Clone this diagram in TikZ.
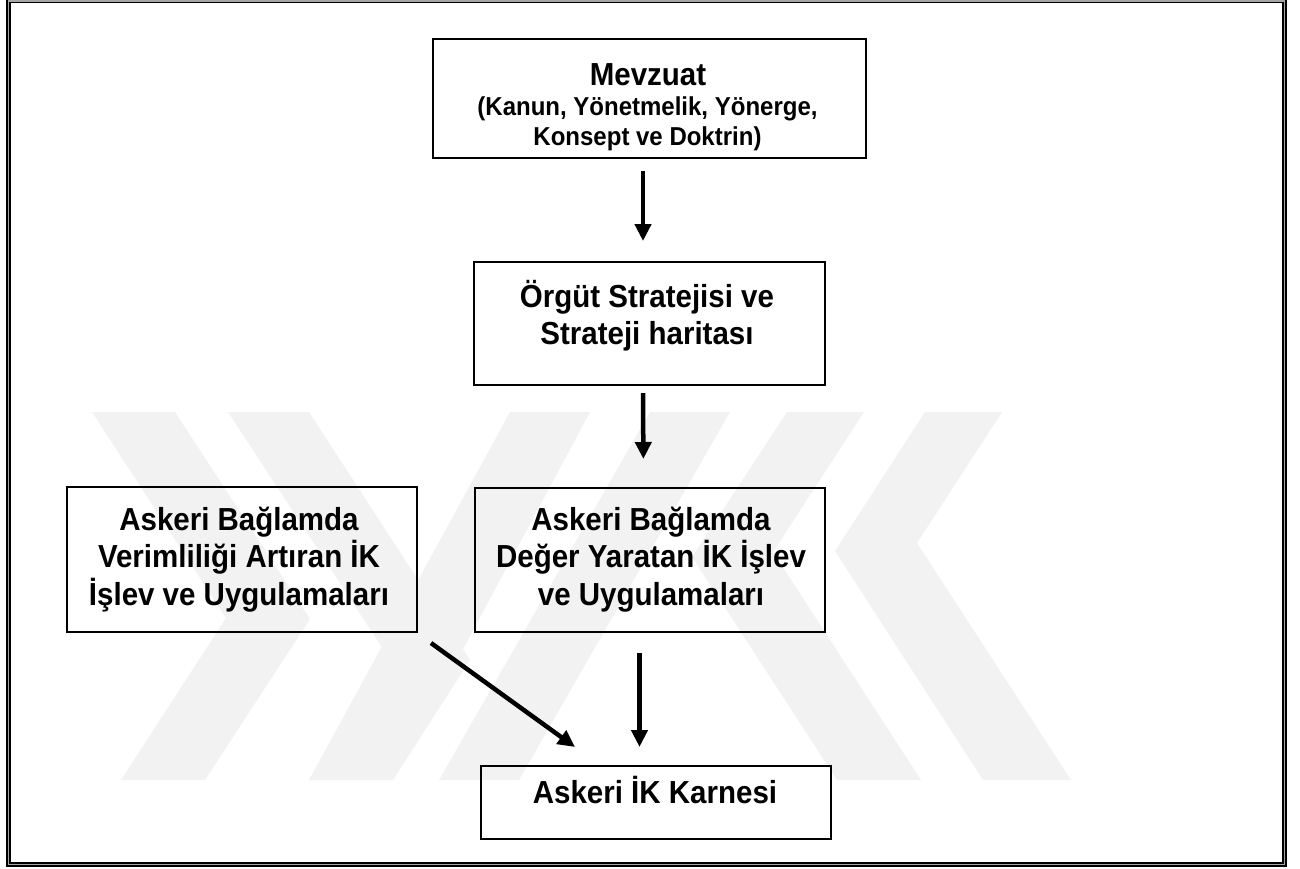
\documentclass[tikz,border=0pt]{standalone}
\usepackage{fontspec}
\usepackage{graphicx}
\setmainfont{Liberation Sans}
\usetikzlibrary{arrows.meta}
% centred lines, baseline of the first line is the box baseline
\newcommand{\boxlines}[1]{\vtop{\let\\\cr\halign{\hfil##\hfil\cr#1\crcr}}}
% slightly tall lettering
\newcommand{\tall}[1]{\scalebox{1}[1.08]{#1}}
\begin{document}
\begin{tikzpicture}[x=1pt,y=-1pt,
  wm/.style={fill=black!5, draw=none},
  box/.style={draw=black, line width=2pt, inner sep=0pt, rectangle},
  txt/.style={font=\bfseries\fontsize{29.5}{35}\selectfont, inner sep=0pt, anchor=base},
  sub/.style={font=\bfseries\fontsize{24}{28}\selectfont, inner sep=0pt, anchor=base},
  arr/.style={line width=4.5pt, -{Triangle[width=16pt,length=17pt]}}]
\useasboundingbox (0,0) rectangle (1300,868);

% light background emblem made of diagonal strips
\fill[wm] (92,412) -- (175,412) -- (310,619) -- (205,780) -- (121,780) -- (226,618) -- cycle;
\fill[wm] (228,412) -- (309,412) -- (470,660) -- (393,780) -- (309,780) -- (389,658) -- cycle;
\fill[wm] (510,412) -- (590,412) -- (393,780) -- (309,780) -- cycle;
\fill[wm] (650,412) -- (730,412) -- (519,780) -- (439,780) -- cycle;
\fill[wm] (787,412) -- (864,412) -- (773,552) -- (921,780) -- (837,780) -- (692,557) -- cycle;
\fill[wm] (925,412) -- (1002,412) -- (917,543) -- (1071,780) -- (983,780) -- (835,551) -- cycle;

% page frame: double rule
\draw[line width=4.5pt] (8.5,1) rectangle (1284.5,864.5);
\draw[line width=1.5pt, gray!70] (8.5,1) rectangle (1284.5,864.5);

% boxes
\node[box, minimum width=433pt, minimum height=119pt] (mev) at (649.5,98.5) {};
\node[box, minimum width=351pt, minimum height=123pt] (str) at (649.5,323.5) {};
\node[box, minimum width=350pt, minimum height=145pt] (ver) at (242,559.5) {};
\node[box, minimum width=350pt, minimum height=144pt] (deg) at (650,560) {};
\node[box, minimum width=350pt, minimum height=73pt] (kar) at (656,802.5) {};

% box texts
\node[txt] (mevT) at (648,85) {\tall{Mevzuat}};
\node[sub] (mevS) at (647.5,115) {\tall{\boxlines{(Kanun, Yönetmelik, Yönerge,\\Konsept ve Doktrin)}}};
\node[txt] (strT) at (647,307) {\tall{\boxlines{Örgüt Stratejisi ve\\Strateji haritası}}};
\node[txt] (verT) at (239,530) {\tall{\boxlines{Askeri Bağlamda\\Verimliliği Artıran İK\\İşlev ve Uygulamaları}}};
\node[txt] (degT) at (651,530) {\tall{\boxlines{Askeri Bağlamda\\Değer Yaratan İK İşlev\\ve Uygulamaları}}};
\node[txt] (karT) at (655,803) {\tall{Askeri İK Karnesi}};

% connectors
\draw[arr, shorten <=12pt, shorten >=20pt] ([xshift=-6.5pt]mev.south) -- ([xshift=-6.5pt]str.north);
\draw[arr, shorten <=7pt, shorten >=28pt] ([xshift=-6.5pt]str.south) -- ([xshift=-6.5pt]deg.north);
\draw[arr, shorten <=20pt, shorten >=18pt] ([xshift=-10.5pt]deg.south) -- ([xshift=-16.5pt]kar.north);
\draw[arr] ([shift={(13,10)}]ver.south east) -- ([shift={(95,-18)}]kar.north west);
\end{tikzpicture}
\end{document}
